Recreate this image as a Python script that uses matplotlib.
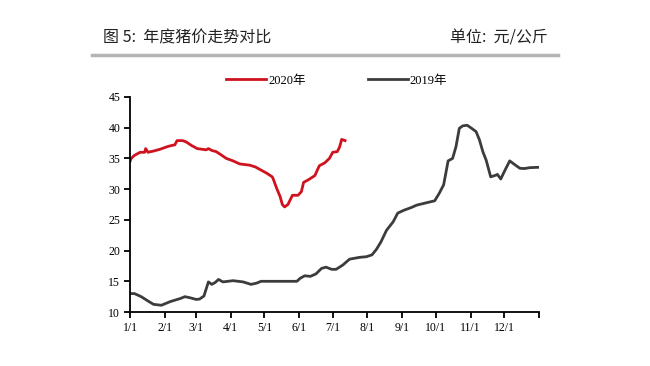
import numpy as np
import matplotlib
matplotlib.use('Agg')
import matplotlib.pyplot as plt
from matplotlib.lines import Line2D

# 数据 (横轴为一年中的第几天)
day_2020 = [0, 1, 4, 9, 13, 14, 16, 21, 27, 33, 37, 40, 42, 47, 50, 55, 60, 68, 70, 73,
            77, 82, 86, 92, 98, 107, 112, 116, 122, 127, 128, 131, 134, 136, 138, 141,
            145, 150, 153, 155, 159, 165, 169, 174, 178, 181, 185, 187, 189, 192]
price_2020 = [34.5, 35.0, 35.5, 36.0, 36.0, 36.6, 36.0, 36.2, 36.5, 36.9, 37.1, 37.2, 37.9, 37.9,
              37.7, 37.1, 36.6, 36.4, 36.6, 36.3, 36.1, 35.5, 35.0, 34.6, 34.1, 33.9, 33.6,
              33.2, 32.6, 32.0, 31.6, 30.1, 28.8, 27.5, 27.1, 27.5, 29.0, 29.0, 29.6, 31.1,
              31.5, 32.2, 33.8, 34.3, 35.0, 36.0, 36.1, 36.8, 38.1, 37.9]

day_2019 = [0, 4, 10, 16, 21, 28, 36, 45, 49, 54, 59, 62, 66, 70, 73, 76, 79, 83, 92, 101,
            108, 113, 117, 149, 152, 156, 161, 166, 171, 175, 180, 184, 190, 196, 205, 211,
            216, 220, 224, 229, 235, 239, 245, 251, 256, 265, 272, 276, 280, 284, 288, 291,
            294, 297, 301, 305, 309, 312, 315, 318, 322, 327, 328, 331, 334, 339, 343, 348,
            352, 357, 364]
price_2019 = [13.0, 13.0, 12.5, 11.8, 11.25, 11.1, 11.7, 12.2, 12.5, 12.3, 12.05, 12.1, 12.6,
              14.9, 14.5, 14.8, 15.3, 14.9, 15.1, 14.9, 14.5, 14.7, 15.0, 15.0, 15.5, 15.9,
              15.8, 16.2, 17.1, 17.3, 16.95, 16.95, 17.65, 18.6, 18.9, 19.0, 19.3, 20.2, 21.4,
              23.3, 24.7, 26.1, 26.6, 27.0, 27.4, 27.8, 28.1, 29.3, 30.7, 34.6, 35.0, 36.9,
              39.9, 40.3, 40.4, 39.9, 39.35, 38.0, 36.1, 34.7, 32.0, 32.3, 32.4, 31.65, 32.8,
              34.6, 34.05, 33.4, 33.35, 33.5, 33.55]

month_start = [0, 31, 59, 90, 120, 151, 181, 212, 243, 273, 304, 334, 365]
month_labels = ['1/1', '2/1', '3/1', '4/1', '5/1', '6/1', '7/1', '8/1', '9/1', '10/1', '11/1', '12/1', '']

serif = ['Liberation Serif', 'Noto Sans CJK SC']
cjk = ['Noto Sans CJK SC', 'DejaVu Sans']

fig = plt.figure(figsize=(6.5, 3.66), dpi=100)
ax = fig.add_axes([0.2, 0.1475, 0.629, 0.5875])

ax.plot(day_2020, price_2020, color='#d0121e', lw=2.0, label='2020年')
ax.plot(day_2019, price_2019, color='#3c3c3c', lw=2.0, label='2019年')

ax.set_xlim(0, 365)
ax.set_ylim(10, 45)
ax.set_xticks(month_start)
ax.set_xticklabels(month_labels)
ax.set_yticks(np.arange(10, 46, 5))
for s in ['top', 'right']:
    ax.spines[s].set_visible(False)
for s in ['left', 'bottom']:
    ax.spines[s].set_linewidth(1.3)
ax.tick_params(direction='out', length=4, width=1.3, labelsize=8.5, pad=3)
for lab in ax.get_xticklabels() + ax.get_yticklabels():
    lab.set_family(serif)

# 图例
leg = ax.legend(loc='center', bbox_to_anchor=(0.518, 0.78), bbox_transform=fig.transFigure,
                ncol=2, frameon=False, handlelength=3.2, handletextpad=0.15,
                columnspacing=5.0, prop={'family': serif, 'size': 9})

# 标题
fig.text(0.158, 0.896, '图 5:  年度猪价走势对比', family=cjk, fontsize=11.5,
         va='center', ha='left', color='#222222')
fig.text(0.843, 0.896, '单位:  元/公斤', family=cjk, fontsize=11.5,
         va='center', ha='right', color='#222222')
fig.add_artist(Line2D([0.142, 0.858], [0.85, 0.85], transform=fig.transFigure,
                      color='#b4b4b4', lw=2.5))

fig.savefig('out.png', dpi=100)
